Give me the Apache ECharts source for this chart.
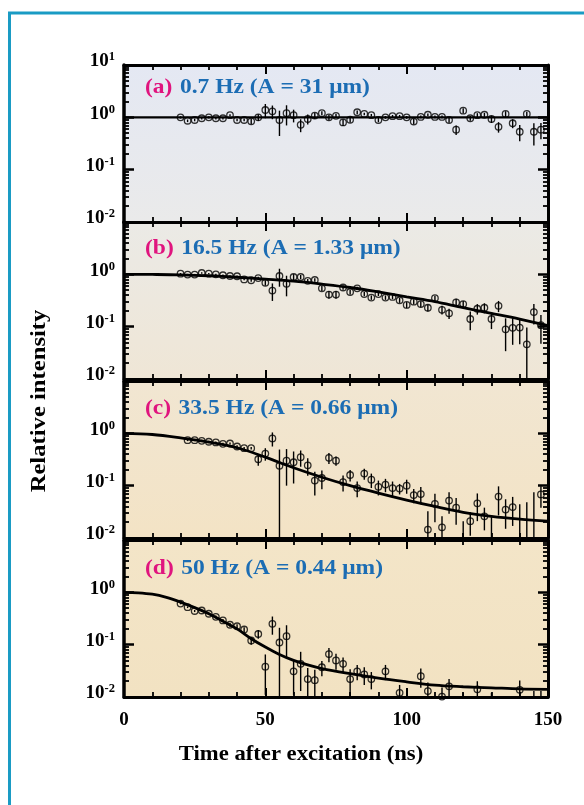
<!DOCTYPE html>
<html><head><meta charset="utf-8">
<script src="https://cdn.jsdelivr.net/npm/echarts@6/dist/echarts.min.js"></script>
<style>html,body{margin:0;padding:0;background:#fff}#c{width:584px;height:805px}</style>
</head><body><div id="c"></div>
<script>
// ---------------- data ----------------
const timesA = [20,22.5,25,27.5,30,32.5,35,37.5,40,42.5,45,47.5,50,52.5,55,57.5,60,62.5,65,67.5,70,72.5,75,77.5,80,82.5,85,87.5,90,92.5,95,97.5,100,102.5,105,107.5,110,112.5,115,117.5,120,122.5,125,127.5,130,132.5,135,137.5,140,142.5,145,147.5];
const valuesA = [1.0,0.86,0.89,0.96,1.0,0.96,0.96,1.1,0.89,0.89,0.84,1.0,1.38,1.3,0.89,1.2,1.1,0.72,0.93,1.08,1.2,1.0,1.07,0.8,0.9,1.25,1.16,1.1,0.89,1.0,1.05,1.05,1.0,0.83,1.02,1.12,1.02,1.02,0.89,0.58,1.34,0.96,1.1,1.12,0.93,0.66,1.16,0.77,0.53,1.16,0.53,0.58];
const errorsA = [0.05,0.05,0.05,0.05,0.05,0.05,0.05,0.05,0.05,0.05,0.1,0.15,0.42,0.38,0.45,0.5,0.3,0.2,0.2,0.15,0.1,0.12,0.1,0.12,0.1,0.1,0.06,0.06,0.08,0.06,0.06,0.06,0.06,0.1,0.06,0.06,0.06,0.06,0.1,0.12,0.15,0.1,0.1,0.1,0.15,0.15,0.15,0.15,0.18,0.12,0.24,0.2];
const fitTimesA = [0,150];
const fitValuesA = [1.0,1.0];

const timesB = [20,22.5,25,27.5,30,32.5,35,37.5,40,42.5,45,47.5,50,52.5,55,57.5,60,62.5,65,67.5,70,72.5,75,77.5,80,82.5,85,87.5,90,92.5,95,97.5,100,102.5,105,107.5,110,112.5,115,117.5,120,122.5,125,127.5,130,132.5,135,137.5,140,142.5,145,147.5];
const valuesB = [1.03,0.99,0.99,1.06,1.03,1.0,0.96,0.93,0.92,0.80,0.77,0.85,0.69,0.49,0.93,0.66,0.89,0.89,0.75,0.78,0.54,0.41,0.41,0.56,0.46,0.54,0.42,0.36,0.42,0.36,0.37,0.32,0.26,0.30,0.27,0.23,0.35,0.21,0.18,0.29,0.27,0.14,0.22,0.23,0.14,0.25,0.089,0.095,0.096,0.046,0.19,0.107];
const errorsB = [0.03,0.03,0.03,0.03,0.03,0.03,0.03,0.03,0.03,0.03,0.05,0.05,0.08,0.18,0.35,0.28,0.12,0.08,0.06,0.06,0.06,0.07,0.07,0.05,0.05,0.04,0.04,0.035,0.035,0.035,0.035,0.035,0.035,0.035,0.035,0.035,0.04,0.04,0.04,0.05,0.04,0.055,0.05,0.05,0.05,0.06,0.055,0.05,0.05,0.05,0.08,0.06];
const fitTimesB = [0,10,20,30,40,50,60,70,80,90,100,110,120,130,140,150];
const fitValuesB = [1.0,0.995,0.98,0.94,0.88,0.81,0.74,0.65,0.56,0.46,0.37,0.30,0.23,0.18,0.14,0.105];

const timesC = [22.5,25,27.5,30,32.5,35,37.5,40,42.5,45,47.5,50,52.5,55,57.5,60,62.5,65,67.5,70,72.5,75,77.5,80,82.5,85,87.5,90,92.5,95,97.5,100,102.5,105,107.5,110,112.5,115,117.5,120,122.5,125,127.5,130,132.5,135,137.5,140,142.5,145,147.5];
const valuesC = [0.74,0.74,0.72,0.69,0.67,0.63,0.64,0.56,0.52,0.52,0.32,0.41,0.80,0.24,0.30,0.28,0.35,0.245,0.125,0.14,0.34,0.30,0.117,0.16,0.09,0.17,0.13,0.095,0.105,0.09,0.088,0.10,0.066,0.069,0.0145,0.045,0.016,0.052,0.038,0.008,0.021,0.046,0.026,0.009,0.062,0.035,0.039,0.009,0.009,0.009,0.068];
const errorsC = [0.03,0.03,0.03,0.03,0.03,0.03,0.03,0.03,0.03,0.03,0.08,0.11,0.24,0.25,0.2,0.17,0.12,0.09,0.06,0.055,0.08,0.06,0.04,0.04,0.03,0.04,0.04,0.03,0.03,0.03,0.02,0.03,0.02,0.025,0.018,0.025,0.01,0.023,0.02,0.013,0.01,0.025,0.012,0.018,0.035,0.02,0.022,0.035,0.039,0.066,0.03];
const fitTimesC = [0,10,20,30,40,50,60,70,80,90,100,110,120,130,140,150];
const fitValuesC = [1.0,0.95,0.82,0.68,0.53,0.35,0.22,0.145,0.10,0.072,0.053,0.040,0.031,0.026,0.023,0.021];

const timesD = [20,22.5,25,27.5,30,32.5,35,37.5,40,42.5,45,47.5,50,52.5,55,57.5,60,62.5,65,67.5,70,72.5,75,77.5,80,82.5,85,87.5,92.5,97.5,105,107.5,112.5,115,120,125,130,140,145,147.5];
const valuesD = [0.61,0.52,0.44,0.45,0.39,0.34,0.29,0.24,0.225,0.195,0.12,0.16,0.038,0.25,0.11,0.145,0.031,0.043,0.022,0.021,0.037,0.066,0.05,0.043,0.022,0.031,0.027,0.022,0.031,0.012,0.025,0.013,0.0102,0.016,0.009,0.014,0.008,0.0137,0.009,0.009];
const errorsD = [0.02,0.02,0.02,0.02,0.02,0.02,0.02,0.02,0.02,0.02,0.02,0.03,0.027,0.095,0.1,0.09,0.02,0.03,0.014,0.012,0.012,0.02,0.017,0.014,0.012,0.01,0.01,0.008,0.01,0.005,0.01,0.006,0.005,0.006,0.003,0.006,0.004,0.007,0.004,0.004];
const fitTimesD = [0,5,10,15,20,25,30,35,40,45,50,55,60,65,70,80,90,100,110,120,130,140,150];
const fitValuesD = [1.0,0.98,0.92,0.80,0.65,0.51,0.39,0.28,0.20,0.13,0.09,0.065,0.05,0.041,0.035,0.028,0.023,0.0195,0.0168,0.0157,0.015,0.0143,0.014];

const panelTags = ['(a)','(b)','(c)','(d)'];
const panelTitles = ['0.7 Hz (A = 31 \u03bcm)','16.5 Hz (A = 1.33 \u03bcm)','33.5 Hz (A = 0.66 \u03bcm)','50 Hz (A = 0.44 \u03bcm)'];
const xTickValues = [0,50,100,150];
const minorYTicks = [0.02,0.03,0.04,0.05,0.06,0.07,0.08,0.09,0.2,0.3,0.4,0.5,0.6,0.7,0.8,0.9,2,3,4,5,6,7,8,9];
const xTitle = 'Time after excitation (ns)';
const yTitle = 'Relative intensity';

// ---------------- layout / style ----------------
const FONT = '"Liberation Serif","Times New Roman",serif';
const gridTops = [65, 222, 381, 540];
const gridH = 157;
const titleYs = [88, 249, 409, 569];
const bgStops = [
  ['#e4e8f3','#eaeaea'],
  ['#ebeae6','#efe6d6'],
  ['#f1e6d2','#f3e3c5'],
  ['#f3e5c8','#f2e2c2']
];
const panels = [
  {t:timesA,v:valuesA,e:errorsA,ft:fitTimesA,fv:fitValuesA},
  {t:timesB,v:valuesB,e:errorsB,ft:fitTimesB,fv:fitValuesB},
  {t:timesC,v:valuesC,e:errorsC,ft:fitTimesC,fv:fitValuesC},
  {t:timesD,v:valuesD,e:errorsD,ft:fitTimesD,fv:fitValuesD}
];

const grids = [], xAxes = [], yAxes = [], series = [], graphics = [];
const richY = {
  b:{fontFamily:FONT,fontWeight:'bold',fontSize:19,color:'#000',lineHeight:22},
  s:{fontFamily:FONT,fontWeight:'bold',fontSize:12.5,color:'#000',verticalAlign:'top'}
};

panels.forEach((p, i) => {
  grids.push({
    left:124, right:36, top:gridTops[i], height:gridH, show:true, borderWidth:0,
    backgroundColor:{type:'linear',x:0,y:0,x2:0,y2:1,colorStops:[{offset:0,color:bgStops[i][0]},{offset:1,color:bgStops[i][1]}]}
  });
  const xBase = {
    type:'value', gridIndex:i, min:0, max:150, interval:50,
    axisLine:{show:true,onZero:false,lineStyle:{color:'#000',width:3}},
    axisTick:{show:true,inside:true,length:9,lineStyle:{color:'#000',width:2}},
    minorTick:{show:true,splitNumber:5,length:5,lineStyle:{color:'#000',width:1.8}},
    splitLine:{show:false}, minorSplitLine:{show:false}
  };
  xAxes.push(Object.assign({}, xBase, {
    position:'bottom',
    axisLabel:{show:i===3, margin:14, fontFamily:FONT, fontWeight:'bold', fontSize:19, color:'#000',
      customValues:xTickValues}
  }));
  xAxes.push(Object.assign({}, xBase, {position:'top', axisLabel:{show:false}}));

  const yBase = {type:'log', logBase:10, gridIndex:i, min:0.01, max:10, splitLine:{show:false}};
  yAxes.push(Object.assign({}, yBase, {
    position:'left',
    axisLine:{show:true,onZero:false,lineStyle:{color:'#000',width:3.5}},
    axisTick:{show:true,inside:true,length:10,lineStyle:{color:'#000',width:2.5}},
    axisLabel:{show:true, margin:9, padding:[0,0,7,0], rich:richY,
      formatter:function(v){ const e=Math.round(Math.log10(v)); if(i>0 && e===1) return ''; return '{b|10}{s|'+e+'}'; }}
  }));
  yAxes.push(Object.assign({}, yBase, {
    position:'left', axisLine:{show:false,onZero:false},
    axisTick:{show:true,inside:true,length:5,lineStyle:{color:'#000',width:1.8},customValues:minorYTicks},
    axisLabel:{show:false}
  }));
  yAxes.push(Object.assign({}, yBase, {
    position:'right',
    axisLine:{show:true,onZero:false,lineStyle:{color:'#000',width:3}},
    axisTick:{show:true,inside:true,length:10,lineStyle:{color:'#000',width:2.5}},
    axisLabel:{show:false}
  }));
  yAxes.push(Object.assign({}, yBase, {
    position:'right', axisLine:{show:false,onZero:false},
    axisTick:{show:true,inside:true,length:5,lineStyle:{color:'#000',width:1.8},customValues:minorYTicks},
    axisLabel:{show:false}
  }));

  const fitData = p.ft.map((t,k)=>[t,p.fv[k]]);
  series.push({
    type:'line', xAxisIndex:2*i, yAxisIndex:4*i, data:fitData, smooth:i>0?0.35:false,
    symbol:'none', lineStyle:{color:'#000',width:i===0?2.2:2.8}, z:3, silent:true
  });
  const errData = p.t.map((t,k)=>[t, Math.max(p.v[k]-p.e[k], 0.001), p.v[k]+p.e[k]]);
  series.push({
    type:'custom', xAxisIndex:2*i, yAxisIndex:4*i, data:errData, clip:true, z:4, silent:true,
    encode:{x:0,y:[1,2]},
    renderItem:function(params, api){
      const a = api.coord([api.value(0), api.value(1)]);
      const b = api.coord([api.value(0), api.value(2)]);
      return {type:'line', shape:{x1:a[0],y1:a[1],x2:b[0],y2:b[1]}, style:{stroke:'#000',lineWidth:1.4}};
    }
  });
  const ptData = p.t.map((t,k)=>[t,p.v[k]]).filter(d=>d[1]>=0.01);
  series.push({
    type:'scatter', xAxisIndex:2*i, yAxisIndex:4*i, data:ptData, symbol:'circle', symbolSize:6.5,
    itemStyle:{color:'rgba(0,0,0,0)',borderColor:'#000',borderWidth:1.3}, z:5, silent:true, clip:true
  });

  graphics.push({
    type:'text', x:145, y:titleYs[i], scaleX:1.12,
    style:{text:'{p|'+panelTags[i]+'}  {t|'+panelTitles[i]+'}', verticalAlign:'middle',
      rich:{p:{fontFamily:FONT,fontWeight:'bold',fontSize:21,fill:'#e0147e'},
            t:{fontFamily:FONT,fontWeight:'bold',fontSize:21,fill:'#1c6db4'}}}
  });
});

graphics.push({type:'line', shape:{x1:9.5,y1:13,x2:9.5,y2:805}, style:{stroke:'#1a9bc4',lineWidth:3}});
graphics.push({type:'line', shape:{x1:8,y1:13,x2:584,y2:13}, style:{stroke:'#1a9bc4',lineWidth:3}});
graphics.push({type:'text', x:301, y:754, scaleX:1.03, style:{text:xTitle, fontFamily:FONT, fontWeight:'bold', fontSize:22, fill:'#000', align:'center', verticalAlign:'middle'}});
graphics.push({type:'text', x:39, y:401, rotation:Math.PI/2, scaleX:1.12, style:{text:yTitle, fontFamily:FONT, fontWeight:'bold', fontSize:22, fill:'#000', align:'center', verticalAlign:'middle'}});

const chart = echarts.init(document.getElementById('c'), null, {renderer:'canvas'});
chart.setOption({
  animation:false, backgroundColor:'#fff',
  grid:grids, xAxis:xAxes, yAxis:yAxes, series:series, graphic:graphics
});
</script></body></html>
